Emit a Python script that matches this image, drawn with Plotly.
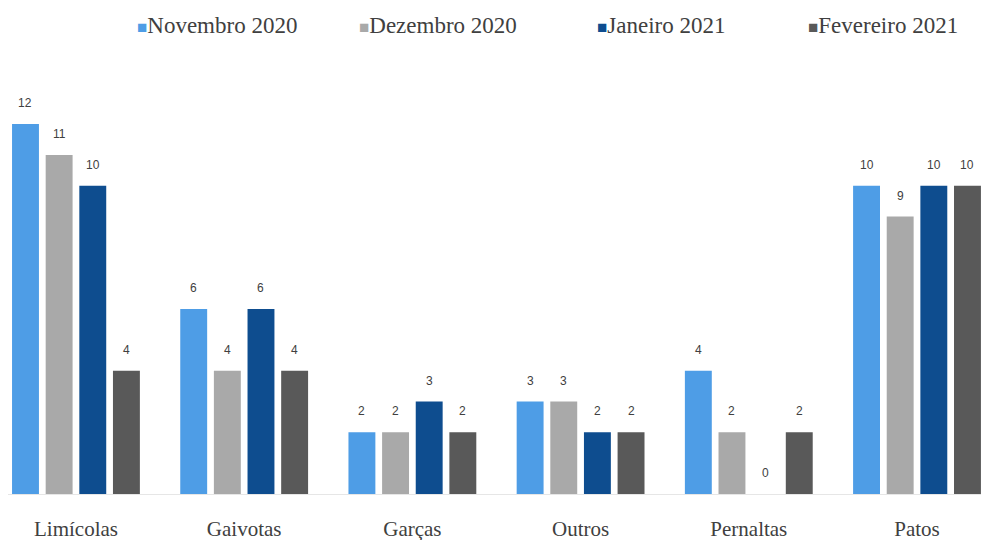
import plotly.graph_objects as go

categories = ['Limícolas', 'Gaivotas', 'Garças', 'Outros', 'Pernaltas', 'Patos']
series_names = ['Novembro 2020', 'Dezembro 2020', 'Janeiro 2021', 'Fevereiro 2021']
nov_2020 = [12, 6, 2, 3, 4, 10]
dez_2020 = [11, 4, 2, 3, 2, 9]
jan_2021 = [10, 6, 3, 2, 0, 10]
fev_2021 = [4, 4, 2, 2, 2, 10]
colors = ['#4E9DE6', '#A9A9A9', '#0E4D8F', '#595959']

series = [nov_2020, dez_2020, jan_2021, fev_2021]

SERIF = 'Liberation Serif, Times New Roman, DejaVu Serif, serif'

# page body keeps its default 8px margin, so the figure is sized to fit the window
W, H = 981, 532

fig = go.Figure()
for name, vals, col in zip(series_names, series, colors):
    fig.add_trace(go.Bar(
        x=categories, y=vals, name=name,
        marker=dict(color=col, line=dict(width=0)),
    ))

# value labels above each bar
n = len(series)
group_w = 0.8
slot = group_w / n
for i, vals in enumerate(series):
    off = -group_w / 2 + slot * (i + 0.5)
    for j, v in enumerate(vals):
        fig.add_annotation(
            x=j + off, y=v, xref='x', yref='y', text=str(v),
            showarrow=False, yshift=21,
            font=dict(family='Liberation Sans', size=12, color='#404040'),
        )

# legend drawn as text: small coloured square followed by the series name
legend_x = [127, 349, 587, 798]
for name, col, lx in zip(series_names, colors, legend_x):
    fig.add_annotation(
        x=lx / W, y=1.0806, xref='paper', yref='paper', xanchor='left', yanchor='middle',
        showarrow=False,
        text=f'<span style="color:{col};font-size:17px">■</span>{name}',
        font=dict(family=SERIF, size=23, color='#404040'),
    )

fig.update_layout(
    width=W, height=H,
    margin=dict(l=0, r=0, t=52, b=46),
    barmode='group', bargap=0.2, bargroupgap=0.2,
    plot_bgcolor='white', paper_bgcolor='white',
    font=dict(family=SERIF, size=17, color='#404040'),
    showlegend=False,
    xaxis=dict(range=[-0.404, 5.428], showline=True, linecolor='#E6E6E6', linewidth=1,
               ticks='', showgrid=False, ticklabelstandoff=16, automargin=False,
               tickfont=dict(family=SERIF, size=21, color='#404040')),
    yaxis=dict(range=[0, 14.08], visible=False, showgrid=False, automargin=False),
)

fig.write_html("out.html")
